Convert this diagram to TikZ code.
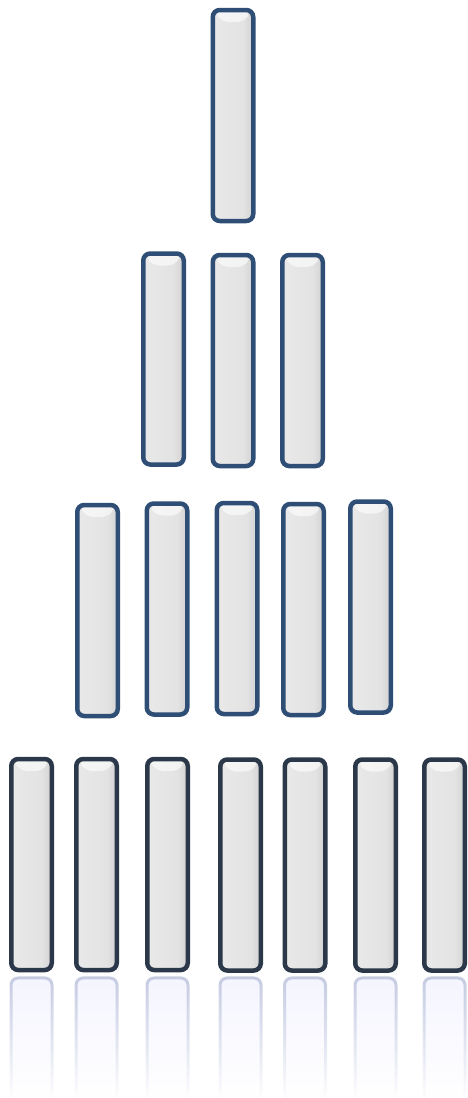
\documentclass[tikz,border=0pt]{standalone}
\usetikzlibrary{fadings}
\definecolor{barline}{RGB}{46,78,118}
\definecolor{barlineB}{RGB}{42,56,74}
\definecolor{refline}{RGB}{175,184,212}
\pgfdeclarehorizontalshading{barshade}{100bp}{color(0bp)=(gray!55); color(14bp)=(gray!22); color(30bp)=(gray!18); color(62bp)=(gray!22); color(80bp)=(gray!40); color(100bp)=(gray!70)}
\tikzfading[name=reflfade, top color=transparent!30, bottom color=transparent!100]
\tikzset{
  bar/.style={draw=barline, line width=4.5pt, rounded corners=7pt, minimum width=40.5pt, minimum height=211pt,
    inner sep=0pt, shading=barshade,
    path picture={\fill[white,opacity=0.6] ([xshift=2pt,yshift=-1pt]path picture bounding box.north west) -- ([xshift=-2pt,yshift=-1pt]path picture bounding box.north east) -- ([xshift=-9pt,yshift=-12pt]path picture bounding box.north east) -- ([xshift=9pt,yshift=-12pt]path picture bounding box.north west) -- cycle;}},
  barB/.style={bar, draw=barlineB},
  refl/.style={draw=refline, fill=blue!6, line width=3pt, rounded corners=7pt, path fading=reflfade}
}
\begin{document}
\begin{tikzpicture}[x=1pt,y=-1pt]
\useasboundingbox (0,0) rectangle (467,1098);
% reflections
\foreach \cx/\n in {31.5/1,96.5/2,167.5/3,240.5/4,305/5,375.5/6,444.5/7}{
  \path[refl] (\cx-20.5,978) rectangle (\cx+20.5,1100);
}
% row 1
\node[bar] (a1) at (233,115.5) {};
% row 2
\node[bar] (b1) at (163.5,359) {};
\node[bar] (b2) at (233,360.5) {};
\node[bar] (b3) at (302.5,360.5) {};
% row 3
\node[bar] (c1) at (97.5,610.5) {};
\node[bar] (c2) at (167,609) {};
\node[bar] (c3) at (237,608.5) {};
\node[bar] (c4) at (303.5,609.5) {};
\node[bar] (c5) at (370.5,607) {};
% row 4
\node[barB] (d1) at (31.5,864.5) {};
\node[barB] (d2) at (96.5,864.5) {};
\node[barB] (d3) at (167.5,864.5) {};
\node[barB] (d4) at (240.5,865) {};
\node[barB] (d5) at (305,865) {};
\node[barB] (d6) at (375.5,865) {};
\node[barB] (d7) at (444.5,865) {};
\end{tikzpicture}
\end{document}
